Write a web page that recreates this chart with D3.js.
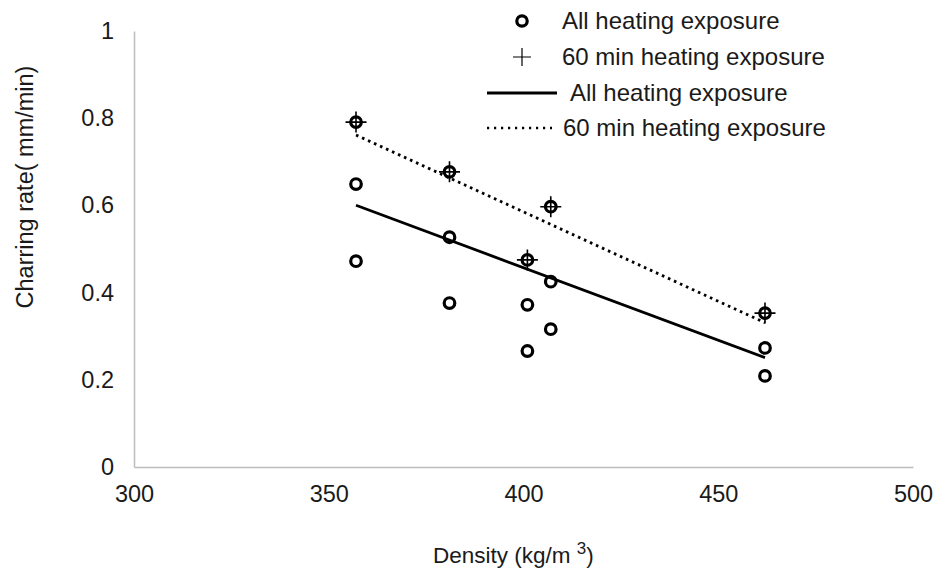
<!DOCTYPE html>
<html>
<head>
<meta charset="utf-8">
<script src="https://cdn.jsdelivr.net/npm/d3@7"></script>
<style>
  body { margin: 0; background: #fff; }
  svg { font-family: "Liberation Sans", Arial, sans-serif; }
</style>
</head>
<body>
<div id="chart"></div>
<script>
// densities of the five specimens
var density = [357, 381, 401, 407, 462];

// all heating exposure, three readings per density
var allRate = [
  [0.791, 0.649, 0.472],
  [0.677, 0.527, 0.376],
  [0.475, 0.372, 0.266],
  [0.597, 0.425, 0.316],
  [0.353, 0.273, 0.209]
];

// 60 min heating exposure
var rate60 = [0.791, 0.677, 0.475, 0.597, 0.353];

var xTicks = [300, 350, 400, 450, 500];
var yTicks = [0, 0.2, 0.4, 0.6, 0.8, 1];

var legendLabels = ["All heating exposure", "60 min heating exposure",
                    "All heating exposure", "60 min heating exposure"];

var width = 936, height = 571;

var svg = d3.select("#chart").append("svg")
    .attr("width", width)
    .attr("height", height);

var x = d3.scaleLinear().domain([300, 500]).range([134, 913]);
var y = d3.scaleLinear().domain([0, 1]).range([467, 31]);

// flatten the points
var allPts = [];
density.forEach(function(d, i) {
  allRate[i].forEach(function(r) { allPts.push([d, r]); });
});
var pts60 = density.map(function(d, i) { return [d, rate60[i]]; });

// least squares fit
function fit(pts) {
  var mx = d3.mean(pts, p => p[0]), my = d3.mean(pts, p => p[1]);
  var sxy = d3.sum(pts, p => (p[0] - mx) * (p[1] - my));
  var sxx = d3.sum(pts, p => (p[0] - mx) * (p[0] - mx));
  var b = sxy / sxx;
  var x0 = d3.min(pts, p => p[0]), x1 = d3.max(pts, p => p[0]);
  return [[x0, my + b * (x0 - mx)], [x1, my + b * (x1 - mx)]];
}

// axes
svg.append("g")
    .attr("transform", "translate(" + x(300) + ",0)")
    .call(d3.axisLeft(y).tickValues(yTicks).tickFormat(d3.format("~g"))
      .tickSize(0).tickPadding(20));
svg.append("g")
    .attr("transform", "translate(0," + y(0) + ")")
    .call(d3.axisBottom(x).tickValues(xTicks).tickSize(0).tickPadding(18));

svg.selectAll(".domain").attr("stroke", "#bdbdbd").attr("stroke-width", 1.5);
svg.selectAll(".tick text")
    .attr("font-family", "Liberation Sans, Arial, sans-serif")
    .attr("font-size", 23.5)
    .attr("fill", "#1a1a1a");

// axis titles
svg.append("text")
    .attr("transform", "translate(33,187) rotate(-90)")
    .attr("text-anchor", "middle")
    .attr("font-size", 23.5)
    .attr("fill", "#1a1a1a")
    .text("Charring rate( mm/min)");

var xt = svg.append("text")
    .attr("x", 433)
    .attr("y", 563)
    .attr("font-size", 22.5)
    .attr("fill", "#1a1a1a");
xt.append("tspan").text("Density (kg/m ");
xt.append("tspan").attr("dy", -9).attr("font-size", 17).text("3");
xt.append("tspan").attr("dy", 9).text(")");

// trend lines
var line = d3.line().x(d => x(d[0])).y(d => y(d[1]));
svg.append("path")
    .attr("d", line(fit(allPts)))
    .attr("fill", "none")
    .attr("stroke", "#000")
    .attr("stroke-width", 2.8);
svg.append("path")
    .attr("d", line(fit(pts60)))
    .attr("fill", "none")
    .attr("stroke", "#000")
    .attr("stroke-width", 2.8)
    .attr("stroke-dasharray", "2.6,4");

// circles
svg.selectAll(".pt").data(allPts).enter().append("circle")
    .attr("class", "pt")
    .attr("cx", d => x(d[0]))
    .attr("cy", d => y(d[1]))
    .attr("r", 5.3)
    .attr("fill", "none")
    .attr("stroke", "#000")
    .attr("stroke-width", 3.2);

// plus markers
svg.selectAll(".plus").data(pts60).enter().append("path")
    .attr("class", "plus")
    .attr("d", function(d) {
      var cx = x(d[0]), cy = y(d[1]), s = 10.5;
      return "M" + (cx - s) + "," + cy + "H" + (cx + s) +
             "M" + cx + "," + (cy - s) + "V" + (cy + s);
    })
    .attr("stroke", "#000")
    .attr("stroke-width", 1.6);

// legend
var lg = svg.append("g");
lg.append("circle").attr("cx", 522).attr("cy", 21).attr("r", 5.2)
    .attr("fill", "none").attr("stroke", "#000").attr("stroke-width", 3.2);
lg.append("path").attr("d", "M513,57H531M522,48V66")
    .attr("stroke", "#000").attr("stroke-width", 1.2);
lg.append("path").attr("d", "M487,93H557")
    .attr("stroke", "#000").attr("stroke-width", 2.8);
lg.append("path").attr("d", "M487,128H552")
    .attr("stroke", "#000").attr("stroke-width", 2.4)
    .attr("stroke-dasharray", "2.2,4.8");

var legX = [562, 562, 570, 563], legY = [21, 57, 93, 128];
lg.selectAll("text").data(legendLabels).enter().append("text")
    .attr("x", (d, i) => legX[i])
    .attr("y", (d, i) => legY[i])
    .attr("dy", "0.35em")
    .attr("font-size", 24)
    .attr("fill", "#1a1a1a")
    .text(d => d);
</script>
</body>
</html>
